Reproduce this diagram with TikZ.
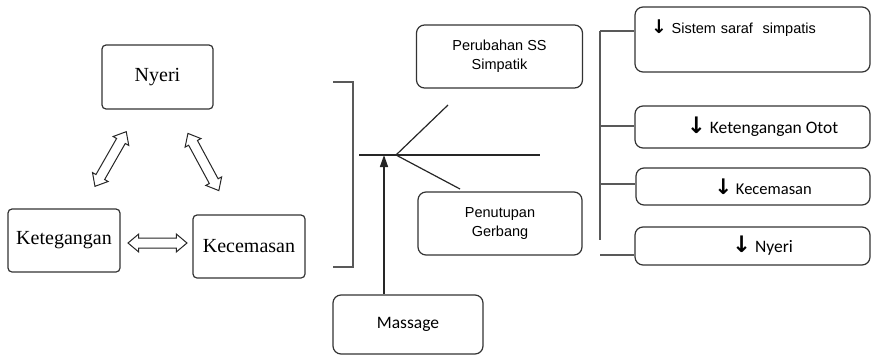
\documentclass[tikz,border=0pt]{standalone}
\usepackage{fontspec}
\usepackage{graphicx}
\setmainfont{Liberation Serif}
\newfontfamily\arialfont{Liberation Sans}
\newfontfamily\califont{Carlito}
\newfontfamily\arrowfont{DejaVu Sans}
\usetikzlibrary{arrows.meta,calc,shapes.arrows}
\tikzstyle{lb}=[rectangle, draw=black!80, rounded corners=4pt, line width=1.2pt, align=center, font=\fontsize{20}{24}\selectfont]
\tikzstyle{mb}=[rectangle, draw=black!80, rounded corners=8pt, line width=1.2pt, align=center, font=\arialfont\fontsize{14.5}{19}\selectfont]
\tikzstyle{rb}=[rectangle, draw=black!80, rounded corners=8pt, line width=1.2pt, minimum width=235pt, align=center, font=\califont\fontsize{17.5}{21}\selectfont]
\tikzstyle{dbl}=[double arrow, draw=black!85, fill=white, line width=1pt, sloped, inner xsep=0pt, inner ysep=4.5pt, double arrow head extend=4pt, double arrow tip angle=80]
\tikzstyle{ln}=[line width=1.2pt, draw=black!85]
\tikzstyle{br}=[line width=1.4pt, draw=black!65]
\newcommand{\downmark}{\scalebox{1.3}{\arrowfont\bfseries\char"2193}}

\begin{document}
\begin{tikzpicture}[x=1pt,y=-1pt]
\useasboundingbox (0,0) rectangle (872,356);
% left triangle
\node[lb, minimum width=111pt, minimum height=64pt] (nyeri) at (157.5,77) {Nyeri};
\node[lb, minimum width=112pt, minimum height=63pt] (keteg) at (64,240.5) {Ketegangan};
\node[lb, minimum width=112pt, minimum height=63pt] (kecem) at (249,246.5) {Kecemasan};
\path (keteg) -- node[dbl, minimum height=63pt] {} (nyeri);
\path (kecem) -- node[dbl, minimum height=65pt] {} (nyeri);
\path ([yshift=-2.5pt]keteg.east) -- node[dbl, minimum height=59pt, xshift=1pt] {} ([yshift=3.5pt]kecem.west);

% middle
\draw[br] (333,82) -- (353,82) -- (353,267) -- (333,267);
\node[mb, minimum width=166pt, minimum height=63pt] (perub) at (499.5,56.5) {Perubahan SS\\Simpatik};
\node[mb, minimum width=164pt, minimum height=63pt] (penut) at (500,223.5) {Penutupan\\Gerbang};
\node[mb, minimum width=150pt, minimum height=59pt, font=\califont\fontsize{17.5}{21}\selectfont] (massage) at (408,324.5) {Massage};
\coordinate (apex) at (396,155);
\coordinate (hl) at (359,155);
\coordinate (hr) at (540,155);
\coordinate (up) at (448,105);
\coordinate (low) at (460,189);
\coordinate (hit) at (384,155);
\draw[ln] (hl) -- (hr);
\draw[ln] (up) -- (apex) -- (low);
\draw[ln, line width=1.5pt, -{Triangle[length=12pt,width=8pt]}] (massage.north -| hit) -- (hit);

% right
\node[rb, minimum height=65pt, align=left, text width=203pt, inner xsep=16pt, inner ysep=8pt, text height=18pt, text depth=31pt, font=\arialfont\fontsize{14.5}{18}\selectfont] (r1) at (752.5,39.5) {\downmark\ Sistem saraf\ \ simpatis};
\node[rb, minimum height=42pt] (r2) at (752.5,127) {\hspace*{20pt}\downmark\ Ketengangan Otot};
\node[rb, minimum width=234pt, minimum height=37pt, font=\califont\fontsize{16.5}{20}\selectfont] (r3) at (753,186.5) {\hspace*{20pt}\downmark\ Kecemasan};
\node[rb, minimum height=38pt] (r4) at (752.5,246) {\hspace*{20pt}\downmark\ Nyeri};
\coordinate (t1) at (600,31);
\coordinate (t2) at (600,126);
\coordinate (t3) at (600,184);
\coordinate (tb) at (600,240);
\coordinate (t4) at (600,255);
\draw[br] (t1) -- (tb);
\foreach \c/\n in {t1/r1, t2/r2, t3/r3, t4/r4}
  \draw[br] (\c) -- (\n.west |- \c);
\end{tikzpicture}
\end{document}
